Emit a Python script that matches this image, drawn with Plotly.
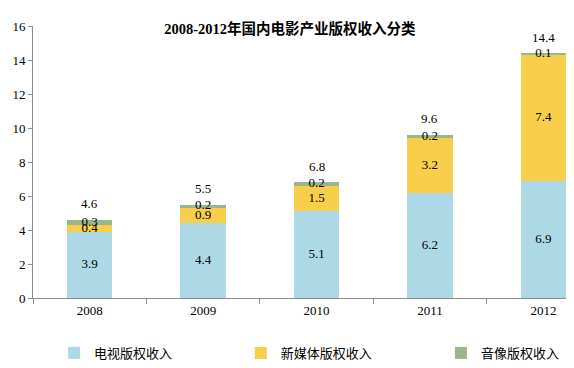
import plotly.graph_objects as go

years = ["2008", "2009", "2010", "2011", "2012"]
tv = [3.9, 4.4, 5.1, 6.2, 6.9]
new_media = [0.4, 0.9, 1.5, 3.2, 7.4]
audio_video = [0.3, 0.2, 0.2, 0.2, 0.1]
totals = [4.6, 5.5, 6.8, 9.6, 14.4]
series_names = ["电视版权收入", "新媒体版权收入", "音像版权收入"]
colors = ["#ADD8E6", "#F9CE4A", "#9BB58C"]
title = "2008-2012年国内电影产业版权收入分类"

serif = "Liberation Serif, Times New Roman, Noto Sans CJK SC, serif"
cjk = "Noto Sans CJK SC, sans-serif"

fig = go.Figure()
series = [tv, new_media, audio_video]
legend_ids = ["legend", "legend2", "legend3"]
base = [0.0] * len(years)
for name, vals, col, lg in zip(series_names, series, colors, legend_ids):
    fig.add_trace(go.Bar(
        x=years, y=vals, name=name, marker=dict(color=col, line=dict(width=0)),
        width=0.4, textposition="none", hoverinfo="y", legend=lg,
    ))
    mids = [b + v / 2 for b, v in zip(base, vals)]
    fig.add_trace(go.Scatter(
        x=years, y=mids, mode="text", text=[f"{v:.1f}" for v in vals],
        textposition="middle center", textfont=dict(family=serif, size=13, color="#000"),
        showlegend=False, hoverinfo="skip",
    ))
    base = [b + v for b, v in zip(base, vals)]

for i, t in enumerate(totals):
    fig.add_annotation(x=i, y=t, xref="x", yref="y", text=f"{t:.1f}", showarrow=False,
                       yshift=16, font=dict(family=serif, size=13, color="#000"))

legend_common = dict(orientation="h", y=-0.202, yanchor="middle", xanchor="left",
                     font=dict(family=cjk, size=13, color="#000"), itemwidth=30,
                     bgcolor="rgba(0,0,0,0)")

# The page body has an 8px margin, so the figure is drawn 8px in from the top-left.
fig.update_layout(
    width=566, height=360,
    barmode="stack",
    paper_bgcolor="white", plot_bgcolor="white",
    margin=dict(l=25, r=0, t=18, b=70, autoexpand=False),
    title=dict(text=f"<b>{title}</b>", x=0.498, xanchor="center", y=0.942, yanchor="middle",
               font=dict(family=serif, size=14.5, color="#000"), automargin=False),
    xaxis=dict(type="category", range=[-0.5, 4.27], showline=True, linecolor="#8C8C8C",
               linewidth=1, ticks="outside", tickson="boundaries", ticklen=5, tickcolor="#8C8C8C",
               showgrid=False, automargin=False,
               tickfont=dict(family=serif, size=13, color="#000")),
    yaxis=dict(range=[0, 16], dtick=2, showline=True, linecolor="#8C8C8C", linewidth=1,
               ticks="outside", ticklen=4, tickcolor="#8C8C8C", showgrid=False, zeroline=False,
               automargin=False, tickfont=dict(family=serif, size=13, color="#000")),
    legend=dict(x=0.039, **legend_common),
    legend2=dict(x=0.384, **legend_common),
    legend3=dict(x=0.754, **legend_common),
    showlegend=True,
)

fig.write_html("out.html")
